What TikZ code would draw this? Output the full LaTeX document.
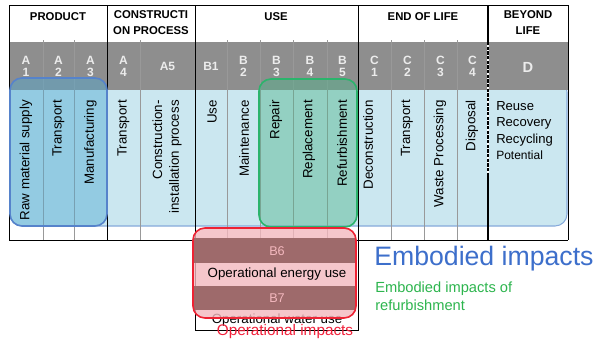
\documentclass[tikz,border=0pt]{standalone}
\usepackage{fontspec}
\setmainfont{Liberation Sans}
\definecolor{bandgray}{HTML}{8E8E8E}
\definecolor{paleblue}{HTML}{CBE7F0}
\definecolor{rimblue}{HTML}{86AADB}
\definecolor{boxblue}{HTML}{50AAD2}
\definecolor{edgeblue}{HTML}{5683CB}
\definecolor{boxgreen}{HTML}{50B48C}
\definecolor{edgegreen}{HTML}{2BB46C}
\definecolor{boxpink}{HTML}{F3B8BE}
\definecolor{rowrose}{HTML}{9E6A6B}
\definecolor{edgered}{HTML}{EE2233}
\definecolor{txtblue}{HTML}{3D6FCB}
\definecolor{txtgreen}{HTML}{2DB54E}
\definecolor{txtred}{HTML}{F2213B}

\tikzset{
  hd/.style={font=\fontsize{8.5}{12}\selectfont\bfseries, align=center, inner sep=0pt},
  code/.style={font=\fontsize{9}{9}\selectfont\bfseries, text=gray!15, align=center, inner sep=0pt},
  stage/.style={rotate=90, anchor=east, font=\fontsize{10}{12.5}\selectfont, align=right, inner sep=0pt},
  hilite/.style={fill opacity=0.45, line width=1.2pt, rounded corners=9pt},
}

\begin{document}
\begin{tikzpicture}[x=0.75pt,y=-0.75pt]
\useasboundingbox (0,0) rectangle (600,340);
\fill[white] (0,0) rectangle (600,340);
% table body
\filldraw[fill=paleblue, draw=rimblue, line width=0.8pt, rounded corners=9pt] (10,80) rectangle (567,226);
\fill[bandgray] (9,42) rectangle (568,90);
\foreach \x in {43,74,140,227,260,293,327,391,424,457}
  \draw[gray!80, line width=0.5pt] (\x,40) -- (\x,240);
\foreach \x in {9,107,195,358,568}
  \draw[line width=0.6pt] (\x,5) -- (\x,240);
\draw[line width=0.6pt] (9,5) -- (568,5);
\draw[line width=0.6pt] (9,240) -- (568,240);
\draw[line width=0.6pt] (195,240) -- (195,330) -- (358,330) -- (358,240);
% end of life / beyond life border
\draw[line width=1.5pt] (488,5) -- (488,42);
\draw[white, line width=1.5pt] (488,42) -- (488,175);
\draw[line width=1.5pt, dash pattern=on 2.5pt off 1pt] (488,42) -- (488,175);
\draw[line width=1.5pt] (488,175) -- (488,240);

% headers
\node[hd] (hprod) at (58,17) {PRODUCT};
\node[hd] (hcons) at (151,23) {CONSTRUCTI\\ON PROCESS};
\node[hd] (huse) at (276,17) {USE};
\node[hd] (heol) at (423,17) {END OF LIFE};
\node[hd] (hbey) at (528,23) {BEYOND\\LIFE};

% module codes
\foreach \x/\t [count=\i] in {26/A\\1, 58.5/A\\2, 90.5/A\\3, 123.5/A\\4, 167.5/A5, 211/B1, 243.5/B\\2, 276.5/B\\3, 310/B\\4, 342.5/B\\5, 374.5/C\\1, 407.5/C\\2, 440.5/C\\3, 472.5/C\\4}
  \node[code] (code\i) at (\x,66) {\t};
\node[code, font=\fontsize{11}{12}\selectfont\bfseries] (codeD) at (528,67) {D};

% highlighted groups
\filldraw[hilite, fill=boxblue, draw=edgeblue] (10,78) rectangle (107,226);
\filldraw[hilite, fill=boxgreen, draw=edgegreen] (259,79) rectangle (357,227);

% stage names
\foreach \x/\t [count=\i] in {26/Raw material supply, 58.5/Transport, 90.5/Manufacturing, 123.5/Transport, 167/Construction-\\installation process, 212/Use, 244/Maintenance, 276/Repair, 309/Replacement, 342/Refurbishment, 368/Deconstruction, 407/Transport, 440/Waste Processing, 472/Disposal}
  \node[stage] (stage\i) at (\x,100) {\t};
\node[anchor=north west, align=left, inner sep=0pt, font=\fontsize{9.8}{12.4}\selectfont] (beyond) at (496,101)
  {Reuse\\Recovery\\Recycling\\{\fontsize{9}{12}\selectfont Potential}};

% operational impacts
\node[font=\fontsize{10}{12}\selectfont] (water) at (277,320) {Operational water use};
\fill[boxpink, fill opacity=0.8, rounded corners=9pt] (193,228) rectangle (356,318);
\begin{scope}
  \clip[rounded corners=9pt] (193,228) rectangle (356,318);
  \fill[rowrose] (193,238) rectangle (356,263);
  \fill[rowrose] (193,286) rectangle (356,310);
\end{scope}
\draw[edgered, line width=1.2pt, rounded corners=9pt] (193,228) rectangle (356,318);
\node[font=\fontsize{9.5}{12}\selectfont, text=boxpink] (b6) at (277,251) {B6};
\node[font=\fontsize{10}{12}\selectfont] (energy) at (277,274.5) {Operational energy use};
\node[font=\fontsize{9.5}{12}\selectfont, text=boxpink] (b7) at (277,298) {B7};
\node[font=\fontsize{11.5}{12}\selectfont, text=txtred] (opimp) at (285,332) {Operational impacts};

% legend
\node[anchor=west, inner sep=0pt, font=\fontsize{20}{24}\selectfont, text=txtblue] (embod) at (374,259) {Embodied impacts};
\node[anchor=north west, align=left, inner sep=0pt, font=\fontsize{11}{13.5}\selectfont, text=txtgreen] (refurb) at (375,282)
  {Embodied impacts of\\refurbishment};
\end{tikzpicture}
\end{document}
